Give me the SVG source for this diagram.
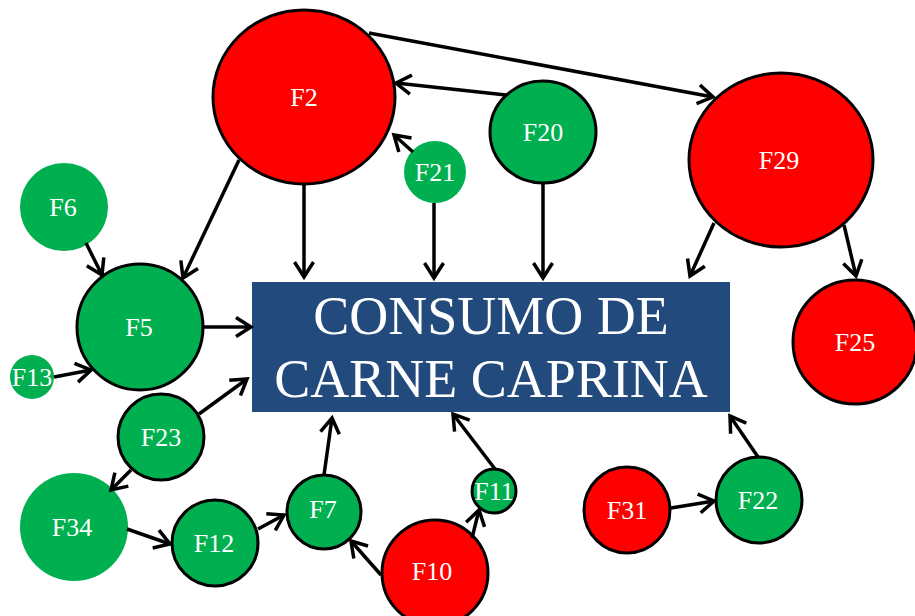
<svg xmlns="http://www.w3.org/2000/svg" width="915" height="616" viewBox="0 0 915 616">
<style>
.red{fill:#FF0000}
.grn{fill:#00B050}
.bd{stroke:#000;stroke-width:3}
.lbl{font-family:"Liberation Serif","Times New Roman",serif;font-size:26px;fill:#fff;text-anchor:middle}
.big{font-family:"Liberation Serif","Times New Roman",serif;font-size:54px;fill:#fff;text-anchor:middle}
.c line{stroke:#000;stroke-width:3.5;marker-end:url(#ah)}
</style>
<defs>
<marker id="ah" markerUnits="userSpaceOnUse" markerWidth="30" markerHeight="30" viewBox="-20 -15 30 30" refX="0" refY="0" orient="auto" overflow="visible">
<path d="M-15,-9.5 L0,0 L-15,9.5" fill="none" stroke="#000" stroke-width="3.5" stroke-linejoin="miter"/>
</marker>
</defs>
<rect width="915" height="616" fill="#fff"/>
<g id="box">
<rect x="252" y="282" width="478" height="130" fill="#224A7C"/>
<text class="big" x="491" y="334">CONSUMO DE</text>
<text class="big" x="491" y="397">CARNE CAPRINA</text>
</g>
<g id="F2"><ellipse class="red bd" cx="304" cy="97" rx="91" ry="87"/><text class="lbl" x="304" y="106">F2</text></g>
<g id="F20"><ellipse class="grn bd" cx="543" cy="132" rx="53" ry="51"/><text class="lbl" x="543" y="141">F20</text></g>
<g id="F21"><circle class="grn" cx="435" cy="172" r="31"/><text class="lbl" x="435" y="181">F21</text></g>
<g id="F29"><ellipse class="red bd" cx="781" cy="160" rx="92" ry="87"/><text class="lbl" x="779" y="169">F29</text></g>
<g id="F25"><circle class="red bd" cx="855" cy="342" r="62"/><text class="lbl" x="855" y="351">F25</text></g>
<g id="F6"><circle class="grn" cx="64" cy="207" r="44"/><text class="lbl" x="63" y="216">F6</text></g>
<g id="F5"><circle class="grn bd" cx="140" cy="327" r="63"/><text class="lbl" x="139" y="336">F5</text></g>
<g id="F13"><circle class="grn" cx="32" cy="377" r="22"/><text class="lbl" x="32" y="386">F13</text></g>
<g id="F23"><circle class="grn bd" cx="161" cy="437" r="43"/><text class="lbl" x="161" y="446">F23</text></g>
<g id="F34"><circle class="grn" cx="74" cy="527" r="54"/><text class="lbl" x="72" y="536">F34</text></g>
<g id="F12"><circle class="grn bd" cx="215" cy="543" r="43"/><text class="lbl" x="214" y="552">F12</text></g>
<g id="F7"><circle class="grn bd" cx="324" cy="512" r="37"/><text class="lbl" x="323" y="518">F7</text></g>
<g id="F10"><circle class="red bd" cx="435" cy="573" r="53"/><text class="lbl" x="432" y="580">F10</text></g>
<g id="F11"><circle class="grn bd" cx="494" cy="491" r="22"/><text class="lbl" x="494" y="500">F11</text></g>
<g id="F31"><circle class="red bd" cx="627" cy="510" r="43"/><text class="lbl" x="627" y="519">F31</text></g>
<g id="F22"><circle class="grn bd" cx="759" cy="500" r="43"/><text class="lbl" x="758" y="509">F22</text></g>
<g id="connectors" class="c">
<line x1="369" y1="33" x2="713" y2="97"/>
<line x1="506" y1="95" x2="396" y2="83"/>
<line x1="413" y1="152" x2="394" y2="135"/>
<line x1="239" y1="160" x2="183" y2="278"/>
<line x1="304" y1="184" x2="304" y2="277"/>
<line x1="434" y1="203" x2="434" y2="278"/>
<line x1="543" y1="183" x2="543" y2="278"/>
<line x1="714" y1="223" x2="690" y2="276"/>
<line x1="844" y1="225" x2="856" y2="276"/>
<line x1="86" y1="243" x2="102" y2="275"/>
<line x1="204" y1="327" x2="251" y2="327"/>
<line x1="54" y1="377" x2="91" y2="370"/>
<line x1="199" y1="414" x2="247" y2="379"/>
<line x1="131" y1="470" x2="111" y2="490"/>
<line x1="127" y1="529" x2="170" y2="544"/>
<line x1="258" y1="529" x2="284" y2="515"/>
<line x1="324" y1="475" x2="332" y2="418"/>
<line x1="381" y1="575" x2="351" y2="541"/>
<line x1="472" y1="538" x2="479" y2="510"/>
<line x1="495" y1="469" x2="453" y2="414"/>
<line x1="671" y1="508" x2="714" y2="501"/>
<line x1="758" y1="457" x2="730" y2="416"/>
</g>
</svg>
